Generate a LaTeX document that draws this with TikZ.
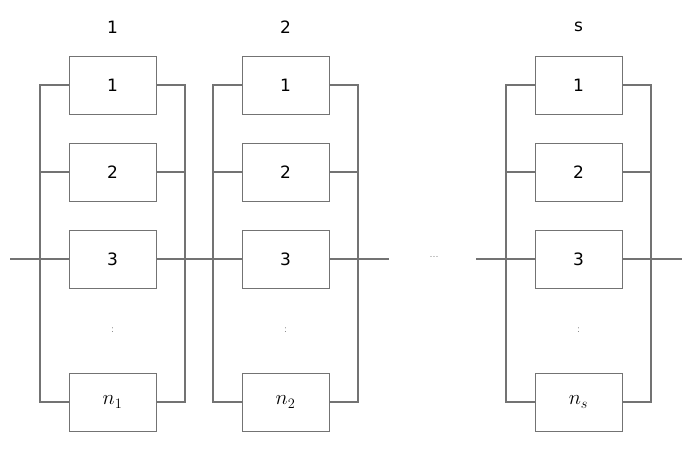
\documentclass[tikz,border=0pt]{standalone}
\usepackage{fontspec}
\setsansfont{DejaVu Sans}
\begin{document}
\begin{tikzpicture}[x=1pt,y=-1pt,
  unit/.style={draw=black!55,line width=1pt,minimum width=87pt,minimum height=58pt,inner sep=0pt,font=\sffamily\fontsize{17}{17}\selectfont},
  wire/.style={draw=black!55,line width=1.1pt},
  lbl/.style={font=\sffamily\fontsize{17}{17}\selectfont},
  dotl/.style={font=\fontsize{11}{11}\selectfont,text=black!55}]
\useasboundingbox (0,0) rectangle (696,448);
\foreach \g/\x/\lab/\nn in {a/112.5/1/n_1, b/285.5/2/n_2, c/578.5/s/n_s}{
  \node[lbl] (h\g) at (\x,27) {\lab};
  \node[unit] (\g1) at (\x,85) {1};
  \node[unit] (\g2) at (\x,172) {2};
  \node[unit] (\g3) at (\x,259) {3};
  \node[unit,font=\fontsize{22}{22}\selectfont] (\g4) at (\x,402) {$\nn$};
  \node[dotl] (\g d) at (\x,330) {:};
  \coordinate (\g L) at (\x-72.5,85);
  \coordinate (\g R) at (\x+72.5,85);
  \coordinate (\g LB) at (\x-72.5,402);
  \coordinate (\g RB) at (\x+72.5,402);
  \draw[wire] (\g1.west) -- (\g L) -- (\g LB) -- (\g4.west);
  \draw[wire] (\g1.east) -- (\g R) -- (\g RB) -- (\g4.east);
  \draw[wire] (\g2.west) -- (\g2.west -| \g L);
  \draw[wire] (\g2.east) -- (\g2.east -| \g R);
}
\coordinate (start) at (10,259);
\coordinate (mid1) at (389,259);
\coordinate (mid2) at (476,259);
\coordinate (finish) at (682,259);
\node[dotl] (dots) at (434,257) {...};
\draw[wire] (start) -- (a3.west);
\draw[wire] (a3.east) -- (b3.west);
\draw[wire] (b3.east) -- (mid1);
\draw[wire] (mid2) -- (c3.west);
\draw[wire] (c3.east) -- (finish);
\end{tikzpicture}
\end{document}
